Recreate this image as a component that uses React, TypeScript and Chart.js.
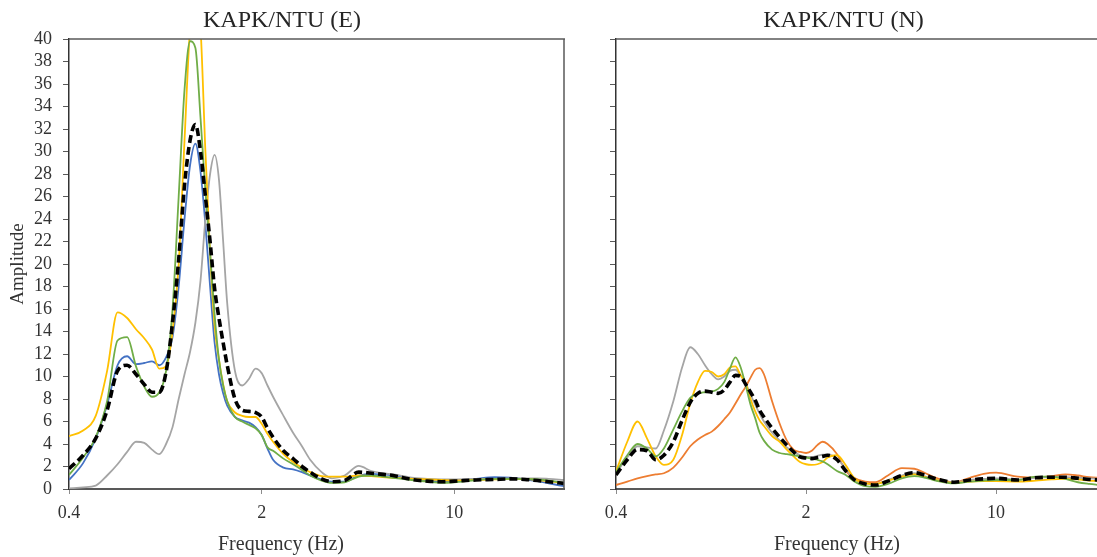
import React, { useEffect, useRef } from 'react';
import { Chart, registerables } from 'chart.js';

Chart.register(...registerables);

const FONT = "'Liberation Serif', 'Times New Roman', serif";

// ---------- KAPK/NTU (E) ----------
const freqE = [0.4, 0.45, 0.5, 0.55, 0.6, 0.65, 0.7, 0.75, 0.8, 0.85, 0.9, 0.95, 1.0, 1.05, 1.1, 1.15, 1.2, 1.25, 1.3, 1.35, 1.4, 1.45, 1.5, 1.6, 1.7, 1.8, 1.9, 2.0, 2.1, 2.2, 2.4, 2.6, 2.8, 3.0, 3.3, 3.6, 4, 4.5, 5, 5.5, 6, 7, 8, 9, 10, 12, 14, 16, 18, 20, 22, 25];
const meanE = [1.8, 3.0, 4.5, 7.0, 10.5, 11.0, 10.2, 9.3, 8.6, 8.6, 10.4, 14.8, 20.4, 27, 31, 32.4, 30, 26, 22, 17.8, 15.2, 13.0, 11.0, 8.0, 7.0, 6.9, 6.8, 6.4, 5.4, 4.6, 3.4, 2.7, 2.0, 1.5, 0.9, 0.65, 0.75, 1.5, 1.4, 1.3, 1.2, 0.85, 0.7, 0.65, 0.7, 0.8, 0.85, 0.9, 0.85, 0.75, 0.65, 0.5];
const greenE = [1.25, 2.8, 4.6, 7.8, 13.2, 13.5, 10.9, 9.1, 8.2, 8.6, 10.5, 16, 26, 35.5, 39.8, 39.2, 33, 26.5, 21, 15.5, 11.5, 9.2, 7.8, 6.4, 6.0, 5.7, 5.4, 4.8, 3.7, 3.4, 2.7, 2.2, 1.7, 1.2, 0.75, 0.55, 0.6, 1.1, 1.2, 1.1, 1.0, 0.8, 0.65, 0.55, 0.6, 0.8, 0.9, 0.9, 0.9, 0.85, 0.75, 0.55];
const yellowE = [4.7, 5.2, 6.5, 10.5, 15.7, 15.2, 14.2, 13.4, 12.4, 10.7, 10.9, 14.0, 20.0, 31.0, 41.0, 44.0, 41.0, 30.0, 21.0, 14.5, 11.5, 9.3, 7.8, 6.8, 6.5, 6.4, 6.4, 5.8, 4.9, 4.2, 3.1, 2.4, 1.9, 1.5, 1.15, 1.1, 1.1, 1.2, 1.15, 1.05, 1.0, 0.9, 0.85, 0.8, 0.75, 0.8, 0.85, 0.9, 0.9, 0.8, 0.7, 0.5];
const grayE = [0.05, 0.15, 0.3, 1.2, 2.2, 3.3, 4.2, 4.1, 3.5, 3.1, 4.0, 5.5, 8.0, 10.2, 12.2, 14.8, 18.5, 24, 28, 29.7, 27.5, 22, 16.5, 10.5, 9.2, 9.8, 10.7, 10.3, 9.2, 8.2, 6.5, 5.0, 3.8, 2.6, 1.5, 0.95, 1.2, 2.05, 1.6, 1.4, 1.3, 1.0, 0.9, 0.85, 0.85, 0.9, 0.9, 0.95, 0.95, 0.95, 0.9, 0.8];
const blueE = [0.8, 2.3, 4.5, 7.5, 11.0, 11.8, 11.1, 11.2, 11.35, 11.0, 11.7, 13.5, 18, 24, 28.8, 30.7, 28.2, 23.5, 18, 13, 10.2, 8.5, 7.4, 6.4, 6.1, 5.9, 5.5, 4.8, 3.6, 2.6, 1.9, 1.75, 1.5, 1.2, 0.85, 0.65, 0.65, 1.2, 1.35, 1.3, 1.2, 0.9, 0.75, 0.65, 0.7, 0.9, 1.05, 1.0, 0.85, 0.7, 0.5, 0.25];

// ---------- KAPK/NTU (N) ----------
const freqN = [0.4, 0.44, 0.48, 0.52, 0.56, 0.6, 0.65, 0.7, 0.75, 0.8, 0.85, 0.9, 0.95, 1.0, 1.05, 1.1, 1.15, 1.2, 1.25, 1.3, 1.35, 1.4, 1.5, 1.6, 1.7, 1.8, 1.9, 2.0, 2.1, 2.2, 2.3, 2.4, 2.6, 2.8, 3.0, 3.3, 3.6, 4, 4.5, 5, 5.5, 6, 7, 8, 9, 10, 12, 14, 16, 18, 20, 22, 24];
const meanN = [1.25, 2.6, 3.5, 3.4, 2.6, 3.0, 4.2, 6.1, 7.7, 8.5, 8.7, 8.6, 8.5, 8.8, 9.5, 10.1, 10.0, 9.3, 8.6, 7.9, 7.0, 6.4, 5.4, 4.6, 3.9, 3.3, 2.85, 2.75, 2.7, 2.8, 2.9, 3.0, 2.6, 1.6, 0.85, 0.45, 0.35, 0.7, 1.2, 1.45, 1.2, 0.9, 0.6, 0.8, 0.9, 0.95, 0.8, 1.0, 1.05, 1.05, 0.95, 0.85, 0.8];
const greenN = [1.5, 3.0, 4.0, 3.6, 2.9, 3.6, 5.3, 6.9, 8.1, 8.5, 8.6, 8.65, 8.9, 9.5, 10.7, 11.7, 10.8, 9.2, 7.5, 6.3, 5.0, 4.3, 3.5, 3.2, 3.1, 3.0, 2.9, 2.8, 2.7, 2.6, 2.45, 2.2, 1.6, 1.25, 0.7, 0.25, 0.2, 0.45, 0.95, 1.15, 1.0, 0.75, 0.5, 0.65, 0.75, 0.8, 0.8, 1.1, 1.1, 0.9, 0.6, 0.45, 0.35];
const yellowN = [1.55, 4.2, 6.0, 4.5, 2.9, 2.15, 2.6, 4.8, 7.6, 9.5, 10.5, 10.4, 10.0, 10.2, 10.8, 10.9, 10.1, 9.4, 8.0, 6.9, 6.1, 5.6, 4.7, 4.2, 3.5, 2.9, 2.4, 2.2, 2.15, 2.2, 2.4, 2.8, 3.0, 2.1, 1.0, 0.5, 0.45, 0.75, 1.1, 1.3, 1.05, 0.8, 0.55, 0.65, 0.7, 0.7, 0.65, 0.75, 0.85, 0.9, 0.85, 0.75, 0.7];
const grayN = [1.4, 2.8, 3.8, 3.7, 3.6, 5.2, 7.8, 10.8, 12.6, 12.0, 11.0, 10.2, 9.75, 10.0, 10.5, 10.6, 10.1, 9.4, 8.4, 7.5, 6.7, 6.0, 5.0, 4.3, 3.7, 3.3, 3.0, 2.85, 2.85, 2.95, 3.05, 3.05, 2.7, 1.8, 0.9, 0.5, 0.45, 0.8, 1.2, 1.4, 1.1, 0.8, 0.6, 0.8, 0.9, 0.95, 0.85, 1.0, 1.05, 1.05, 1.0, 0.95, 0.9];
const orangeN = [0.35, 0.65, 0.95, 1.15, 1.3, 1.4, 1.9, 2.8, 3.8, 4.4, 4.8, 5.1, 5.6, 6.2, 6.8, 7.6, 8.4, 9.1, 9.9, 10.6, 10.75, 10.2, 7.8, 5.8, 4.3, 3.5, 3.3, 3.2, 3.4, 3.9, 4.2, 4.0, 3.1, 1.6, 1.0, 0.65, 0.6, 1.2, 1.85, 1.8, 1.4, 1.0, 0.6, 1.0, 1.35, 1.45, 1.1, 1.0, 1.15, 1.3, 1.2, 1.05, 1.0];

const xTickValues = [0.4, 2, 10];
const yMin = 0;
const yMax = 40;
const yStep = 2;

const COLORS = {
  blue: '#4472C4',
  orange: '#ED7D31',
  gray: '#A5A5A5',
  yellow: '#FFC000',
  green: '#70AD47',
  mean: '#000000',
};

function ds(label: string, freqs: number[], vals: number[], color: string, mean = false) {
  return {
    label,
    data: freqs.map((f, i) => ({ x: f, y: vals[i] })),
    borderColor: color,
    backgroundColor: color,
    borderWidth: mean ? 3.6 : 1.8,
    borderDash: mean ? [8, 4] : [],
    borderCapStyle: 'butt',
    pointRadius: 0,
    fill: false,
    tension: 0.4,
    cubicInterpolationMode: 'monotone',
  };
}

const framePlugin = {
  id: 'frame',
  afterDraw(chart: any, _args: any, opts: any) {
    const { ctx, chartArea } = chart;
    ctx.save();
    ctx.strokeStyle = '#595959';
    ctx.lineWidth = 1.5;
    ctx.beginPath();
    ctx.moveTo(chartArea.left, chartArea.top);
    ctx.lineTo(chartArea.right + 1, chartArea.top);
    if (opts.drawRight) {
      ctx.moveTo(chartArea.right, chartArea.top);
      ctx.lineTo(chartArea.right, chartArea.bottom);
    }
    ctx.stroke();
    ctx.fillStyle = '#333333';
    ctx.font = `20px ${FONT}`;
    ctx.textAlign = 'center';
    ctx.textBaseline = 'middle';
    ctx.fillText(opts.xTitle, opts.xTitleX, opts.xTitleY);
    ctx.restore();
  },
};

interface PanelCfg {
  title: string;
  datasets: any[];
  xMax: number;
  yAxisWidth: number;
  showYLabels: boolean;
  padRight: number;
  drawRight: boolean;
  xTitleX: number;
}

function buildConfig(cfg: PanelCfg): any {
  return {
    type: 'line',
    data: { datasets: cfg.datasets },
    plugins: [framePlugin],
    options: {
      responsive: false,
      animation: false,
      layout: { padding: { left: 0, right: cfg.padRight, top: 0, bottom: 0 } },
      plugins: {
        legend: { display: false },
        tooltip: { enabled: false },
        title: {
          display: true,
          text: cfg.title,
          color: '#262626',
          font: { family: FONT, size: 24, weight: 'normal', lineHeight: 1.2 },
          padding: { top: 6, bottom: 4.2 },
        },
        frame: { drawRight: cfg.drawRight, xTitle: 'Frequency (Hz)', xTitleX: cfg.xTitleX, xTitleY: 545 },
      },
      scales: {
        x: {
          type: 'logarithmic',
          min: 0.4,
          max: cfg.xMax,
          afterBuildTicks: (s: any) => {
            s.ticks = xTickValues.map((v) => ({ value: v }));
          },
          afterFit: (s: any) => {
            s.height = 68;
          },
          ticks: {
            autoSkip: false,
            maxRotation: 0,
            padding: 8,
            color: '#333333',
            font: { family: FONT, size: 18 },
            callback: (v: any) => String(v),
          },
          grid: { display: true, drawOnChartArea: false, drawTicks: true, tickLength: 5, color: '#8c8c8c' },
          border: { display: true, color: '#595959', width: 2 },
        },
        y: {
          min: yMin,
          max: yMax,
          afterFit: (s: any) => {
            s.width = cfg.yAxisWidth;
          },
          ticks: {
            display: cfg.showYLabels,
            stepSize: yStep,
            autoSkip: false,
            padding: 11,
            color: '#333333',
            font: { family: FONT, size: 18 },
          },
          grid: { display: true, drawOnChartArea: false, drawTicks: true, tickLength: 6, color: '#595959' },
          border: { display: true, color: '#333333', width: 1.5 },
          title: {
            display: cfg.showYLabels,
            text: 'Amplitude',
            color: '#333333',
            font: { family: FONT, size: 19 },
            padding: { top: 7, bottom: 0 },
          },
        },
      },
    },
  };
}

function Panel(props: { cfg: PanelCfg; left: number; width: number }) {
  const ref = useRef<HTMLCanvasElement | null>(null);
  useEffect(() => {
    if (!ref.current) return;
    const chart = new Chart(ref.current, buildConfig(props.cfg));
    return () => chart.destroy();
  }, []);
  return (
    <div style={{ position: 'fixed', left: props.left, top: 0, width: props.width, height: 557 }}>
      <canvas ref={ref} width={props.width} height={557} style={{ display: 'block' }} />
    </div>
  );
}

export default function App() {
  const cfgE: PanelCfg = {
    title: 'KAPK/NTU (E)',
    datasets: [
      ds('Mean', freqE, meanE, COLORS.mean, true),
      ds('Record 5', freqE, greenE, COLORS.green),
      ds('Record 4', freqE, yellowE, COLORS.yellow),
      ds('Record 3', freqE, grayE, COLORS.gray),
      ds('Record 1', freqE, blueE, COLORS.blue),
    ],
    xMax: 25,
    yAxisWidth: 69,
    showYLabels: true,
    padRight: 26,
    drawRight: true,
    xTitleX: 281,
  };
  const cfgN: PanelCfg = {
    title: 'KAPK/NTU (N)',
    datasets: [
      ds('Mean', freqN, meanN, COLORS.mean, true),
      ds('Record 5', freqN, greenN, COLORS.green),
      ds('Record 4', freqN, yellowN, COLORS.yellow),
      ds('Record 3', freqN, grayN, COLORS.gray),
      ds('Record 2', freqN, orangeN, COLORS.orange),
    ],
    xMax: 23.5,
    yAxisWidth: 26,
    showYLabels: false,
    padRight: 0,
    drawRight: false,
    xTitleX: 837 - 590,
  };
  return (
    <div style={{ width: 1097, height: 557, background: '#ffffff' }}>
      <Panel cfg={cfgE} left={0} width={590} />
      <Panel cfg={cfgN} left={590} width={507} />
    </div>
  );
}
